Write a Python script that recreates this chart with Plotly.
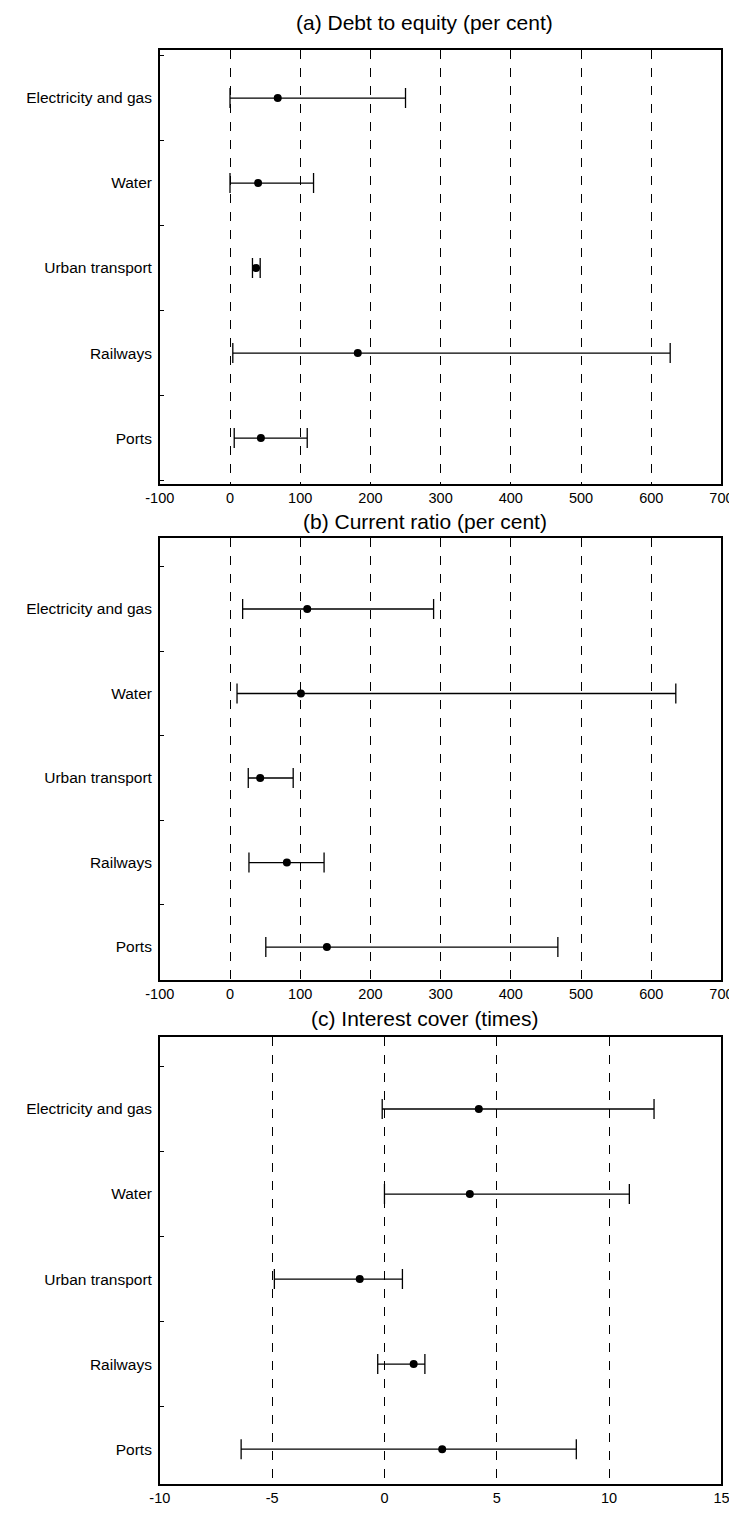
import plotly.graph_objects as go

categories = ["Electricity and gas", "Water", "Urban transport", "Railways", "Ports"]

# (a) Debt to equity (per cent)
debt_mid = [68, 40, 37, 182, 44]
debt_low = [0, 0, 32, 4, 6]
debt_high = [250, 119, 43, 627, 110]

# (b) Current ratio (per cent)
cur_mid = [110, 101, 43, 81, 138]
cur_low = [18, 10, 26, 27, 51]
cur_high = [290, 635, 90, 134, 467]

# (c) Interest cover (times)
int_mid = [4.2, 3.8, -1.1, 1.3, 2.57]
int_low = [-0.1, 0.0, -4.9, -0.3, -6.38]
int_high = [12.0, 10.9, 0.8, 1.8, 8.54]

pct_ticks = [-100, 0, 100, 200, 300, 400, 500, 600, 700]
pct_ticktext = ["-100", "0", "100", "200", "300", "400", "500", "600", "700"]
times_ticks = [-10, -5, 0, 5, 10, 15]
times_ticktext = ["-10", "-5", "0", "5", "10", "15"]

titles = ["(a) Debt to equity (per cent)", "(b) Current ratio (per cent)", "(c) Interest cover (times)"]
x_ranges = [[-100, 700], [-100, 700], [-10, 15]]
x_ticks = [(pct_ticks, pct_ticktext), (pct_ticks, pct_ticktext), (times_ticks, times_ticktext)]
y_ranges = [[4.54, -0.565], [4.39, -0.84], [4.41, -0.847]]
panels = [(debt_mid, debt_low, debt_high), (cur_mid, cur_low, cur_high), (int_mid, int_low, int_high)]

W, H = 737, 1525
left_px, right_px = 142, 725
boxes = [(42, 476), (530, 972), (1029, 1476)]
title_y = [15, 513, 1011]

FONT = "Liberation Sans, Arial, sans-serif"
fig = go.Figure()
idx = list(range(len(categories)))

for i, (mid, low, high) in enumerate(panels):
    ax = "" if i == 0 else str(i + 1)
    fig.add_trace(go.Scatter(
        x=mid, y=idx, mode="markers",
        marker=dict(color="black", size=8),
        error_x=dict(type="data", symmetric=False,
                     array=[h - m for h, m in zip(high, mid)],
                     arrayminus=[m - l for m, l in zip(mid, low)],
                     color="black", thickness=1.3, width=10),
        xaxis="x" + ax, yaxis="y" + ax, showlegend=False, hoverinfo="skip"))
    top, bot = boxes[i]
    dom_y = [1 - bot / H, 1 - top / H]
    tv, tt = x_ticks[i]
    fig.layout["xaxis" + ax] = dict(
        domain=[left_px / W, right_px / W], anchor="y" + ax,
        range=x_ranges[i], tickmode="array", tickvals=tv, ticktext=tt,
        showgrid=True, griddash="dash", gridcolor="black", gridwidth=1,
        zeroline=False, showline=True, linecolor="black", linewidth=1.5, mirror=True,
        ticks="", tickfont=dict(family=FONT, size=14.5, color="black"))
    fig.layout["yaxis" + ax] = dict(
        domain=dom_y, anchor="x" + ax,
        range=y_ranges[i], tickmode="array", tickvals=idx, ticktext=categories,
        showgrid=False, zeroline=False, showline=True, linecolor="black", linewidth=1.5, mirror=True,
        ticks="", ticklabelstandoff=3, tickfont=dict(family=FONT, size=15.5, color="black"),
        minor=dict(tickmode="array", tickvals=[k - 0.5 for k in range(len(categories) + 1)],
                   ticks="inside", ticklen=4, tickcolor="black", showgrid=False))
    fig.add_annotation(text=titles[i], xref="paper", yref="paper",
                       x=417 / W, y=1 - title_y[i] / H,
                       xanchor="center", yanchor="middle", showarrow=False,
                       font=dict(family=FONT, size=21, color="black"))

fig.update_layout(width=W, height=H, margin=dict(l=0, r=0, t=0, b=0),
                  plot_bgcolor="white", paper_bgcolor="white")
fig.write_html("out.html")
